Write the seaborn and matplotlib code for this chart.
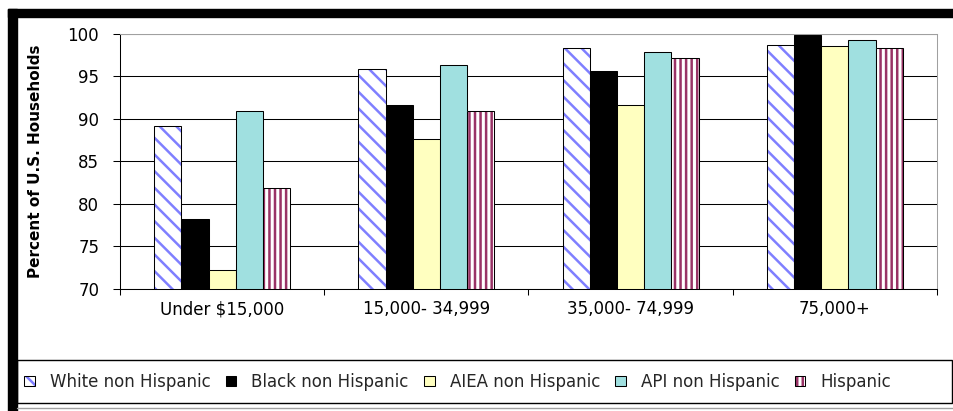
import numpy as np
import pandas as pd
import matplotlib
matplotlib.use("Agg")
import matplotlib.pyplot as plt
import seaborn as sns
from matplotlib.patches import Rectangle, Patch
from matplotlib.lines import Line2D

# ---- data ----
categories = ["Under $15,000", "15,000- 34,999", "35,000- 74,999", "75,000+"]
groups = ["White non Hispanic", "Black non Hispanic", "AIEA non Hispanic",
          "API non Hispanic", "Hispanic"]
white = [89.2, 95.9, 98.3, 98.7]
black = [78.2, 91.6, 95.6, 99.8]
aiea = [72.2, 87.6, 91.6, 98.5]
api = [90.9, 96.3, 97.8, 99.3]
hispanic = [81.9, 90.9, 97.1, 98.3]
y_ticks = [70, 75, 80, 85, 90, 95, 100]

series = [white, black, aiea, api, hispanic]
rows = []
for g, vals in zip(groups, series):
    for c, v in zip(categories, vals):
        rows.append({"income": c, "group": g, "pct": v})
df = pd.DataFrame(rows)

face_colors = ["#FFFFFF", "#000000", "#FFFFC0", "#A0E0E0", "#FFFFFF"]
hatch_spec = {"White non Hispanic": ("\\\\", "#7F7FFF"),
              "Hispanic": ("|||", "#993366")}

sns.set_theme(style="white")
plt.rcParams["font.family"] = ["DejaVu Sans"]
plt.rcParams["hatch.linewidth"] = 1.8

W, H = 954, 411
fig = plt.figure(figsize=(W / 100, H / 100), dpi=100)
fig.patch.set_facecolor("white")
ax = fig.add_axes([120 / W, 1 - 289 / H, 817 / W, (289 - 33.7) / H])

sns.barplot(data=df, x="income", y="pct", hue="group", order=categories,
            hue_order=groups, palette=face_colors, width=0.667, gap=0,
            edgecolor="black", linewidth=0.75, errorbar=None, legend=False,
            saturation=1, ax=ax)

for g, cont in zip(groups, ax.containers):
    if g in hatch_spec:
        h, hc = hatch_spec[g]
        for p in cont:
            p.set_hatch(h)
            p.set_edgecolor(hc)
            p.set_linewidth(0)
            ax.add_patch(Rectangle(p.get_xy(), p.get_width(), p.get_height(),
                                   fill=False, ec="black", lw=0.75,
                                   zorder=p.get_zorder() + 0.1))

ax.set_xlim(-0.5, 3.5)
ax.set_ylim(70, 100)
ax.set_yticks(y_ticks)
ax.yaxis.grid(True, color="black", lw=0.75)
ax.xaxis.grid(False)
ax.set_axisbelow(True)

for s in ["left", "bottom"]:
    ax.spines[s].set_color("black")
    ax.spines[s].set_linewidth(0.75)
for s in ["top", "right"]:
    ax.spines[s].set_color("#A0A0A0")
    ax.spines[s].set_linewidth(0.75)

ax.tick_params(axis="y", left=True, direction="out", length=5, width=0.75,
               pad=10, labelsize=12, colors="black")
ax.set_xticks([-0.5, 0.5, 1.5, 2.5, 3.5], minor=True)
ax.tick_params(axis="x", which="major", bottom=True, length=0, pad=8,
               labelsize=12, colors="black")
ax.tick_params(axis="x", which="minor", bottom=True, length=4, width=0.75,
               color="black")
ax.set_xlabel("")
ax.set_ylabel("Percent of U.S. Households", fontsize=11, fontweight="bold",
              color="black")
ax.yaxis.set_label_coords(-0.094, 0.5)

# legend
handles = []
for g, fc in zip(groups, face_colors):
    if g in hatch_spec:
        h, hc = hatch_spec[g]
        handles.append((Patch(facecolor="white", edgecolor=hc, hatch=h, lw=0),
                        Patch(fill=False, edgecolor="black", lw=0.75)))
    else:
        handles.append(Patch(facecolor=fc, edgecolor="black", lw=0.75))
fig.legend(handles, groups, loc="center left",
           bbox_to_anchor=(24 / W, 1 - 381.5 / H), ncol=5, frameon=False,
           fontsize=12, handlelength=0.65, handleheight=0.55,
           handletextpad=0.9, columnspacing=0.9, borderpad=0,
           borderaxespad=0)

# frame decorations
fig.add_artist(Rectangle((17 / W, 1 - 403 / H), (952 - 17) / W, 43 / H,
                         fill=False, ec="black", lw=1,
                         transform=fig.transFigure))
fig.add_artist(Line2D([17 / W, 1], [1 - 408 / H, 1 - 408 / H],
                      color="#A0A0A0", lw=1, transform=fig.transFigure))
fig.add_artist(Rectangle((8 / W, 1 - 17 / H), (W - 8) / W, 8 / H,
                         color="black", transform=fig.transFigure))
fig.add_artist(Rectangle((8 / W, 0), 9 / W, 1 - 9 / H,
                         color="black", transform=fig.transFigure))

fig.savefig("out.png", dpi=100)
